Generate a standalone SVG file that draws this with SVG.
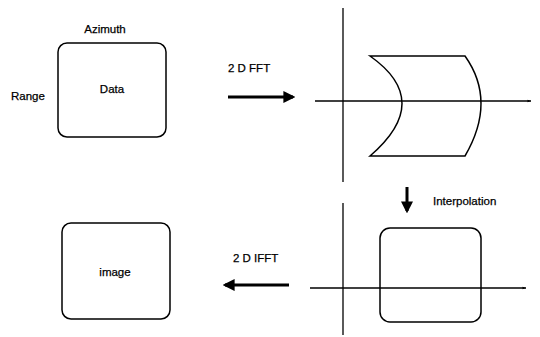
<svg xmlns="http://www.w3.org/2000/svg" width="540" height="337" viewBox="0 0 540 337">
<style>
.t{font-family:"Liberation Sans",Arial,sans-serif;font-size:11.5px;fill:#000;stroke:#000;stroke-width:0.25}
.box{fill:none;stroke:#000;stroke-width:1.5}
.ax{fill:none;stroke:#000;stroke-width:1.3}
.ar{fill:none;stroke:#000;stroke-width:3}
</style>
<defs>
<marker id="h" viewBox="0 0 10 10" refX="8" refY="5" markerWidth="4" markerHeight="4" orient="auto" markerUnits="strokeWidth">
<path d="M0,0 L10,5 L0,10 z" fill="#000"/>
</marker>
<marker id="s" viewBox="0 0 10 10" refX="9" refY="5" markerWidth="3" markerHeight="3" orient="auto" markerUnits="strokeWidth">
<path d="M0,2 L10,5 L0,8 z" fill="#000"/>
</marker>
</defs>
<rect width="540" height="337" fill="#fff"/>
<g id="data">
<rect class="box" x="58" y="43" width="108" height="94" rx="9"/>
<text class="t" x="105" y="33" text-anchor="middle">Azimuth</text>
<text class="t" x="11" y="100">Range</text>
<text class="t" x="112" y="93" text-anchor="middle">Data</text>
</g>
<g id="spectrum">
<line class="ax" x1="343" y1="8" x2="343" y2="182"/>
<line class="ax" x1="315" y1="101" x2="531" y2="101" marker-end="url(#s)"/>
<path class="box" d="M370,56 L465,56 Q497,101 465,156 L370,156 Q434,101 370,56 Z"/>
</g>
<g id="interp">
<line class="ax" x1="343" y1="203" x2="343" y2="335"/>
<line class="ax" x1="310" y1="288" x2="526" y2="288" marker-end="url(#s)"/>
<rect class="box" x="380" y="228" width="101" height="94" rx="10"/>
<text class="t" x="433" y="205">Interpolation</text>
</g>
<g id="image">
<rect class="box" x="62" y="223" width="108" height="96" rx="9"/>
<text class="t" x="115" y="276" text-anchor="middle">image</text>
</g>
<g id="connectors">
<line class="ar" x1="228" y1="97" x2="293" y2="97" marker-end="url(#h)"/>
<text class="t" x="228" y="72">2 D FFT</text>
<line class="ar" x1="289" y1="285" x2="225" y2="285" marker-end="url(#h)"/>
<text class="t" x="233" y="262">2 D  IFFT</text>
<line class="ar" x1="407" y1="187" x2="407" y2="211" marker-end="url(#h)"/>
</g>
</svg>
